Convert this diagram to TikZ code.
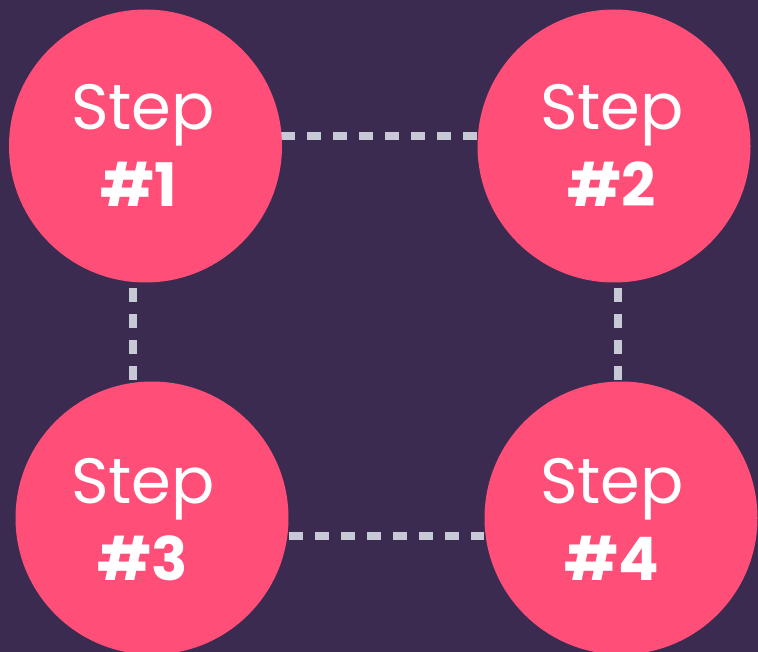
\documentclass[tikz,border=0pt]{standalone}
\usepackage{fontspec}
\setmainfont{Poppins}
\definecolor{bg}{HTML}{3C2B50}
\definecolor{pink}{HTML}{FF4F79}
\definecolor{dashgrey}{HTML}{C8C9D6}
\begin{document}
\begin{tikzpicture}[x=1pt,y=-1pt,
  stepcircle/.style={circle,fill=pink,minimum size=273pt,inner sep=0pt},
  steptext/.style={text=white,font=\fontsize{64}{77}\selectfont,align=center,inner sep=0pt},
  numtext/.style={text=white,font=\fontsize{60}{77}\selectfont\bfseries,align=center,inner sep=0pt},
  link/.style={draw=dashgrey,line width=7.5pt,dash pattern=on 14pt off 12pt}]
\path[use as bounding box,fill=bg] (0,0) rectangle (758,652);
\begin{scope}
\clip (0,0) rectangle (758,652);
\coordinate (t1) at (281,136); \coordinate (t2) at (478,136);
\coordinate (b1) at (289,536); \coordinate (b2) at (484,536);
\coordinate (l1) at (133,288); \coordinate (l2) at (133,383);
\coordinate (r1) at (618,288); \coordinate (r2) at (618,383);
\draw[link] (t1) -- (t2);
\draw[link] (b1) -- (b2);
\draw[link] (l1) -- (l2);
\draw[link] (r1) -- (r2);
\node[stepcircle] (c1) at (145.5,146) {};
\node[stepcircle] (c2) at (614,146) {};
\node[stepcircle] (c3) at (152,518) {};
\node[stepcircle] (c4) at (621,518) {};
\node[steptext,anchor=base] (s1) at (143,130) {Step};
\node[numtext,anchor=base] (n1) at (139,207) {\#1};
\node[steptext,anchor=base] (s2) at (612,130) {Step};
\node[numtext,anchor=base] (n2) at (612,207) {\#2};
\node[steptext,anchor=base] (s3) at (143,503) {Step};
\node[numtext,anchor=base] (n3) at (143,580) {\#3};
\node[steptext,anchor=base] (s4) at (612,503) {Step};
\node[numtext,anchor=base] (n4) at (612,580) {\#4};
\end{scope}
\end{tikzpicture}
\end{document}
